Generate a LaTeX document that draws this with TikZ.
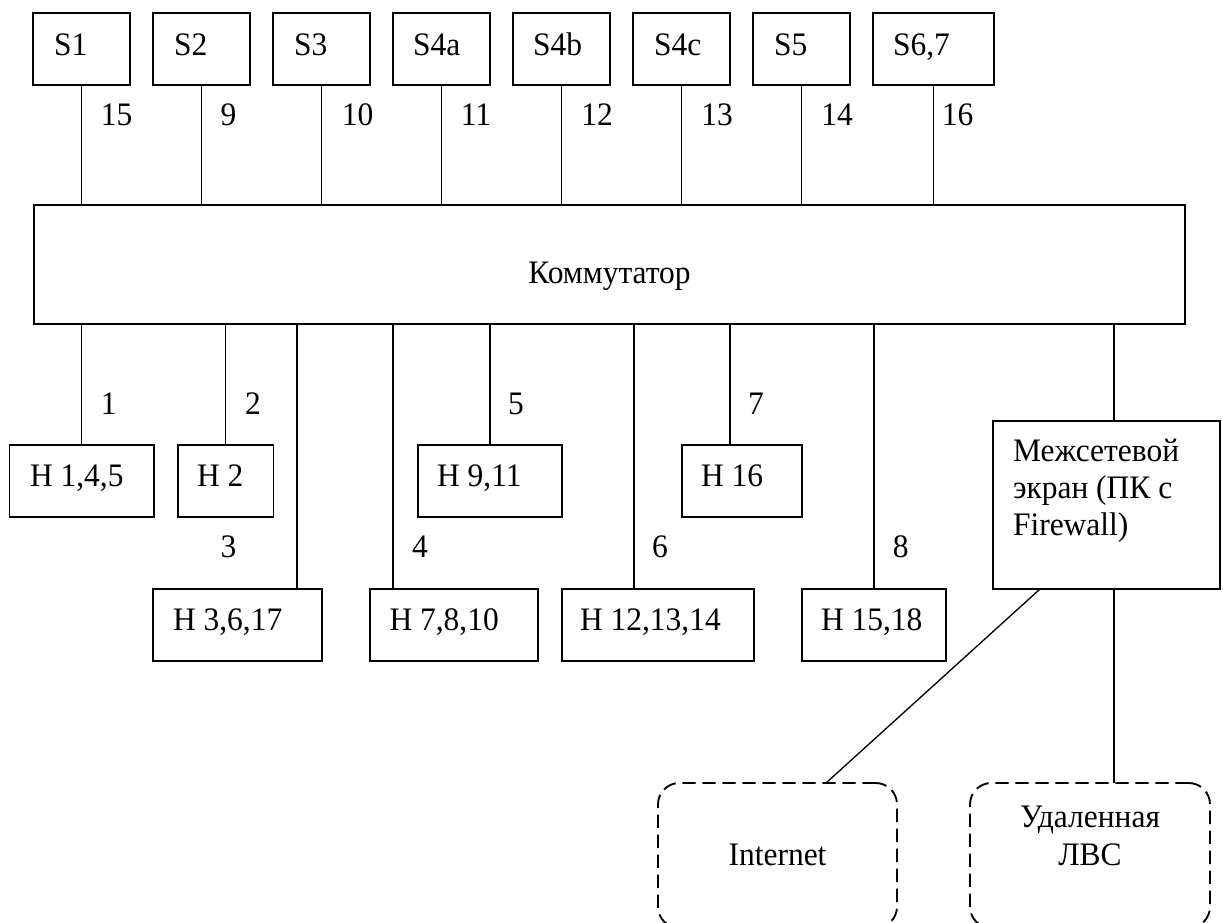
\documentclass[tikz,border=0pt]{standalone}
\usepackage{fontspec}
\setmainfont[FakeStretch=0.96]{Liberation Serif}
\usetikzlibrary{fit}
\begin{document}
\begin{tikzpicture}[x=0.75pt,y=-0.75pt,
  box/.style={draw, line width=1.4pt, inner sep=0pt, outer sep=0pt},
  dbox/.style={draw, line width=1.4pt, inner sep=0pt, outer sep=0pt, rounded corners=16pt, dash pattern=on 10pt off 5pt},
  conn/.style={line width=1pt},
  txt/.style={inner sep=0pt, outer sep=0pt, font=\fontsize{24.6}{28}\selectfont}]
\useasboundingbox (0,0) rectangle (1223,922);
\clip (0,0) rectangle (1223,922);
% top boxes
\node[box, fit={(33,13) (130,85)}] (s1) {};
\node[box, fit={(153,13) (250,85)}] (s2) {};
\node[box, fit={(273,13) (370,85)}] (s3) {};
\node[box, fit={(393,13) (490,85)}] (s4a) {};
\node[box, fit={(513,13) (610,85)}] (s4b) {};
\node[box, fit={(633,13) (730,85)}] (s4c) {};
\node[box, fit={(753,13) (850,85)}] (s5) {};
\node[box, fit={(873,13) (994,85)}] (s67) {};
\node[txt, anchor=base west] (ts1) at (54,55) {S1};
\node[txt, anchor=base west] (ts2) at (174,55) {S2};
\node[txt, anchor=base west] (ts3) at (294,55) {S3};
\node[txt, anchor=base west] (ts4a) at (413,55) {S4a};
\node[txt, anchor=base west] (ts4b) at (533,55) {S4b};
\node[txt, anchor=base west] (ts4c) at (654,55) {S4c};
\node[txt, anchor=base west] (ts5) at (774,55) {S5};
\node[txt, anchor=base west] (ts67) at (893,55) {S6,7};
% switch
\node[box, fit={(34,205) (1185,324)}] (sw) {};
\node[txt, anchor=base] (tsw) at (609.5,283) {Коммутатор};
% top connectors
\foreach \n in {s1,s2,s3,s4a,s4b,s4c,s5,s67}
  \draw[conn] (\n.south) -- (\n.south |- sw.north);
\node[txt, anchor=base] (l15) at (116.6,125) {15};
\node[txt, anchor=base] (l9) at (228.5,125) {9};
\node[txt, anchor=base] (l10) at (357.7,125) {10};
\node[txt, anchor=base] (l11) at (476,125) {11};
\node[txt, anchor=base] (l12) at (597,125) {12};
\node[txt, anchor=base] (l13) at (717,125) {13};
\node[txt, anchor=base] (l14) at (837,125) {14};
\node[txt, anchor=base] (l16) at (957.6,125) {16};
% host boxes
\node[box, fit={(9.5,445) (154,517)}] (h145) {};
\node[box, fit={(178,445) (273.5,517)}] (h2) {};
\node[box, fit={(418,445) (562,517)}] (h911) {};
\node[box, fit={(682,445) (802,517)}] (h16) {};
\node[box, fit={(153,589) (322,661)}] (h3617) {};
\node[box, fit={(370,589) (538,661)}] (h7810) {};
\node[box, fit={(562,589) (754,661)}] (h121314) {};
\node[box, fit={(802,589) (946,661)}] (h1518) {};
\node[txt, anchor=base west] (th145) at (30,486) {H 1,4,5};
\node[txt, anchor=base west] (th2) at (197,486) {H 2};
\node[txt, anchor=base west] (th911) at (437,486) {H 9,11};
\node[txt, anchor=base west] (th16) at (701,486) {H 16};
\node[txt, anchor=base west] (th3617) at (173,630) {H 3,6,17};
\node[txt, anchor=base west] (th7810) at (389.5,630) {H 7,8,10};
\node[txt, anchor=base west] (th121314) at (580,630) {H 12,13,14};
\node[txt, anchor=base west] (th1518) at (821,630) {H 15,18};
% firewall
\node[box, fit={(993,421) (1220,589)}] (fw) {};
\node[txt, anchor=base west] (tfw1) at (1013,461) {Межсетевой};
\node[txt, anchor=base west] (tfw2) at (1013,498) {экран (ПК с};
\node[txt, anchor=base west] (tfw3) at (1013,535) {Firewall)};
% clouds
\node[dbox, fit={(658,783) (897,928)}] (inet) {};
\node[dbox, fit={(970,783) (1210,928)}] (lvs) {};
\node[txt, anchor=base] (tinet) at (777.5,865) {Internet};
\node[txt, anchor=base] (tlvs1) at (1090,827) {Удаленная};
\node[txt, anchor=base] (tlvs2) at (1090,865) {ЛВС};
% bottom connectors
\coordinate (c3) at (297,589);
\coordinate (c4) at (393,589);
\coordinate (c6) at (634,589);
\coordinate (c7) at (730,445);
\coordinate (cf) at (1114,421);
\coordinate (fwa) at (1040,589);
\coordinate (fwb) at (1114,589);
\coordinate (ina) at (826,783);
\draw[conn] (sw.south -| h145.north) -- (h145.north);
\draw[conn] (sw.south -| h2.north) -- (h2.north);
\draw[conn] (c3 |- sw.south) -- (c3);
\draw[conn] (c4 |- sw.south) -- (c4);
\draw[conn] (sw.south -| h911.north) -- (h911.north);
\draw[conn] (c6 |- sw.south) -- (c6);
\draw[conn] (c7 |- sw.south) -- (c7);
\draw[conn] (sw.south -| h1518.north) -- (h1518.north);
\draw[conn] (cf |- sw.south) -- (cf);
\draw[conn] (fwa) -- (ina);
\draw[conn] (fwb) -- (fwb |- lvs.north);
\node[txt, anchor=base] (n1) at (108.7,414) {1};
\node[txt, anchor=base] (n2) at (253,414) {2};
\node[txt, anchor=base] (n5) at (516,414) {5};
\node[txt, anchor=base] (n7) at (756,414) {7};
\node[txt, anchor=base] (n3) at (228.5,557) {3};
\node[txt, anchor=base] (n4) at (420,557) {4};
\node[txt, anchor=base] (n6) at (660,557) {6};
\node[txt, anchor=base] (n8) at (900.7,557) {8};
\end{tikzpicture}
\end{document}
